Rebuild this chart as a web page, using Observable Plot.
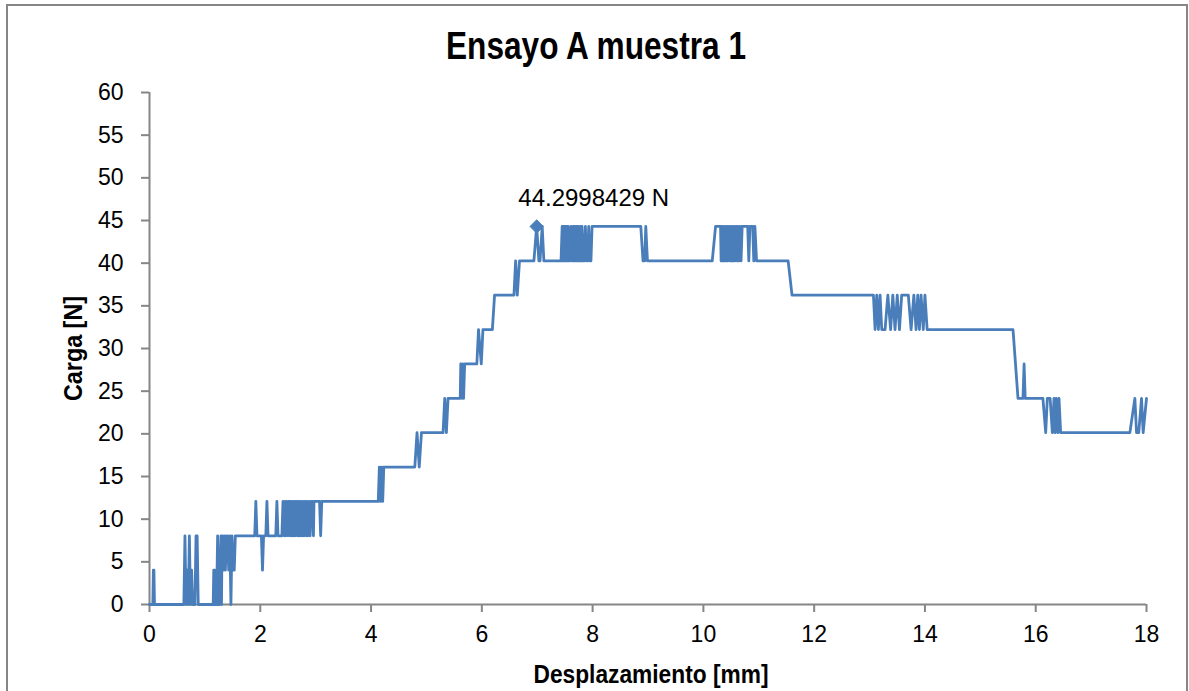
<!DOCTYPE html>
<html>
<head>
<meta charset="utf-8">
<script src="https://cdn.jsdelivr.net/npm/d3@7"></script>
<script src="https://cdn.jsdelivr.net/npm/@observablehq/plot@0.6"></script>
<style>
  html, body { margin: 0; padding: 0; background: #fff; overflow: hidden; }
  #wrap { position: relative; width: 1189px; height: 691px; }
  #marco { position: absolute; left: 6px; top: 4px; width: 1182px; height: 800px;
           box-sizing: border-box; border: 2px solid #868686; pointer-events: none; }
</style>
</head>
<body>
<div id="wrap"><div id="marco"></div></div>
<script>
// ---- Data ----
const titulo = "Ensayo A muestra 1";
const etiquetaX = "Desplazamiento [mm]";
const etiquetaY = "Carga [N]";
const xTicks = [0, 2, 4, 6, 8, 10, 12, 14, 16, 18];
const yTicks = [0, 5, 10, 15, 20, 25, 30, 35, 40, 45, 50, 55, 60];
const pico = [6.99, 44.2998429];

// [desplazamiento mm, carga N]
const puntos = [
  [0.00,0],[0.06,0],[0.07,4.03],[0.08,4.03],[0.09,0],
  [0.62,0],[0.64,8.05],[0.66,0],[0.68,4.03],[0.70,0],[0.72,8.05],[0.74,0],[0.76,4.03],[0.78,0],
  [0.82,0],[0.84,8.05],[0.86,8.05],[0.88,0],[0.91,0],
  [1.15,0],[1.16,4.03],[1.17,0],[1.18,4.03],[1.19,0],[1.20,4.03],[1.21,0],[1.23,8.05],[1.24,0],
  [1.25,4.03],[1.26,0],[1.27,4.03],[1.29,8.05],[1.30,0],[1.31,8.05],[1.33,4.03],[1.35,8.05],
  [1.37,4.03],[1.39,8.05],[1.41,8.05],[1.43,4.03],[1.45,8.05],[1.47,0],[1.49,8.05],[1.51,4.03],
  [1.53,4.03],[1.55,8.05],[1.58,8.05],
  [1.90,8.05],[1.92,12.08],[1.94,8.05],[2.02,8.05],[2.04,4.03],[2.06,8.05],[2.10,8.05],[2.12,12.08],
  [2.14,8.05],[2.28,8.05],[2.30,12.08],[2.32,8.05],[2.39,8.05],
  [2.41,12.08],[2.43,8.05],[2.45,12.08],[2.46,8.05],[2.48,12.08],[2.50,8.05],[2.51,12.08],[2.53,12.08],
  [2.54,8.05],[2.56,12.08],[2.57,8.05],[2.59,12.08],[2.60,8.05],[2.62,12.08],[2.63,8.05],[2.65,12.08],
  [2.67,8.05],[2.68,12.08],[2.70,8.05],[2.71,12.08],[2.73,8.05],[2.74,12.08],[2.76,8.05],[2.78,12.08],
  [2.79,8.05],[2.81,12.08],[2.83,8.05],[2.84,12.08],[2.86,8.05],[2.88,12.08],[2.90,8.05],[2.92,12.08],
  [2.94,12.08],[2.96,8.05],[2.97,12.08],[3.07,12.08],[3.09,8.05],[3.11,12.08],
  [4.13,12.08],[4.15,16.11],[4.17,12.08],[4.19,16.11],[4.21,12.08],[4.23,16.11],[4.27,16.11],
  [4.79,16.11],[4.83,20.14],[4.87,16.11],[4.91,20.14],
  [5.30,20.14],[5.33,24.16],[5.36,20.14],[5.39,24.16],
  [5.61,24.16],[5.62,28.19],[5.64,24.16],[5.65,28.19],[5.67,24.16],[5.69,28.19],
  [5.91,28.19],[5.94,32.22],[5.99,28.19],[6.02,32.22],
  [6.19,32.22],[6.23,36.25],[6.58,36.25],[6.61,40.27],[6.64,36.25],[6.68,40.27],
  [6.94,40.27],[6.99,44.30],[7.03,40.27],[7.05,40.27],[7.09,44.30],[7.12,40.27],
  [7.43,40.27],[7.45,44.30],[7.46,40.27],[7.47,44.30],[7.48,40.27],[7.49,44.30],[7.50,40.27],
  [7.51,44.30],[7.52,40.27],[7.53,44.30],[7.54,44.30],[7.55,40.27],[7.56,44.30],[7.57,40.27],
  [7.59,40.27],[7.61,44.30],[7.63,40.27],[7.65,44.30],[7.66,40.27],[7.67,44.30],[7.68,40.27],
  [7.70,44.30],[7.71,40.27],[7.72,44.30],[7.74,40.27],[7.75,44.30],[7.77,40.27],[7.78,44.30],
  [7.80,40.27],[7.81,44.30],[7.83,40.27],[7.85,40.27],[7.87,44.30],[7.89,40.27],[7.91,40.27],
  [7.93,44.30],[7.95,40.27],[7.97,40.27],[7.99,44.30],
  [8.87,44.30],[8.91,40.27],[8.94,40.27],[8.96,44.30],[8.99,40.27],
  [10.16,40.27],[10.22,44.30],[10.31,44.30],
  [10.32,40.27],[10.33,44.30],[10.35,40.27],[10.36,44.30],[10.38,40.27],[10.39,44.30],[10.41,40.27],
  [10.43,44.30],[10.44,40.27],[10.46,44.30],[10.48,40.27],[10.49,44.30],[10.51,40.27],[10.52,44.30],
  [10.54,40.27],[10.56,44.30],[10.57,40.27],[10.59,44.30],[10.61,40.27],[10.62,44.30],[10.64,40.27],
  [10.66,44.30],[10.68,40.27],[10.70,44.30],[10.80,44.30],[10.82,40.27],[10.84,44.30],[10.89,44.30],
  [10.91,40.27],[10.93,44.30],[10.96,40.27],
  [11.53,40.27],[11.60,36.25],
  [13.07,36.25],[13.10,32.22],[13.13,36.25],[13.16,32.22],[13.19,36.25],[13.22,32.22],[13.28,32.22],
  [13.33,36.25],[13.38,32.22],[13.42,36.25],[13.46,32.22],[13.50,36.25],[13.54,32.22],[13.58,36.25],
  [13.70,36.25],[13.75,32.22],[13.80,36.25],[13.84,32.22],[13.87,36.25],[13.90,32.22],[13.93,36.25],
  [13.97,32.22],[14.00,36.25],[14.04,32.22],
  [15.59,32.22],[15.68,24.16],[15.77,24.16],[15.79,28.19],[15.81,24.16],
  [16.13,24.16],[16.18,20.14],[16.21,24.16],[16.26,24.16],[16.30,20.14],[16.33,24.16],[16.35,20.14],
  [16.37,24.16],[16.40,20.14],[16.42,24.16],[16.45,20.14],[16.48,20.14],
  [17.70,20.14],[17.79,24.16],[17.82,20.14],[17.86,20.14],[17.91,24.16],[17.94,20.14],[18.00,24.16]
];

const azul = "#4a7ebb";
const gris = "#868686";
const fuente = "'Liberation Sans', Arial, sans-serif";

const chart = Plot.plot({
  width: 1189,
  height: 691,
  marginLeft: 149,
  marginRight: 43,
  marginTop: 92,
  marginBottom: 87,
  x: {domain: [0, 18]},
  y: {domain: [0, 60]},
  style: {fontFamily: fuente, fontSize: "23px", color: "#000", background: "transparent", overflow: "visible"},
  marks: [
    Plot.axisX({ticks: xTicks, tickSize: 8, tickPadding: 13, stroke: gris, strokeWidth: 2, fill: "#000", label: null, fontSize: 23, fontFamily: fuente}),
    Plot.axisY({ticks: yTicks, tickSize: 8, tickPadding: 18, stroke: gris, strokeWidth: 2, fill: "#000", label: null, fontSize: 23, fontFamily: fuente}),
    Plot.ruleX([0], {stroke: gris, strokeWidth: 2}),
    Plot.ruleY([0], {stroke: gris, strokeWidth: 2}),
    Plot.line(puntos, {x: d => d[0], y: d => d[1], stroke: azul, strokeWidth: 2.8, strokeLinejoin: "round"}),
    Plot.dot([pico], {x: d => d[0], y: d => d[1], symbol: "diamond2", r: 6, fill: azul, stroke: azul, strokeWidth: 1}),
    Plot.text([pico], {x: d => d[0], y: d => d[1], text: d => `${d[1]} N`, dx: 57, dy: -28, lineAnchor: "middle", textAnchor: "middle", fontSize: 24, fontFamily: fuente, fill: "#000"}),
    Plot.text([titulo], {frameAnchor: "top", text: d => d, dx: -52, dy: -46, lineAnchor: "middle", textAnchor: "middle", fontSize: 38, fontWeight: "bold", fontFamily: fuente, fill: "#000"}),
    Plot.text([etiquetaX], {frameAnchor: "bottom", text: d => d, dx: 3, dy: 70, lineAnchor: "middle", textAnchor: "middle", fontSize: 25, fontWeight: "bold", fontFamily: fuente, fill: "#000"}),
    Plot.text([etiquetaY], {frameAnchor: "left", text: d => d, dx: -76, dy: 0, rotate: -90, lineAnchor: "middle", textAnchor: "middle", fontSize: 25, fontWeight: "bold", fontFamily: fuente, fill: "#000"})
  ]
});

// condensed look of the original (narrow bold) via textLength
const anchos = new Map([[titulo, 300], [etiquetaX, 235], [etiquetaY, 105]]);
chart.querySelectorAll("text").forEach(t => {
  const w = anchos.get(t.textContent);
  if (w) { t.setAttribute("textLength", w); t.setAttribute("lengthAdjust", "spacingAndGlyphs"); }
});
document.getElementById("wrap").prepend(chart);
</script>
</body>
</html>
